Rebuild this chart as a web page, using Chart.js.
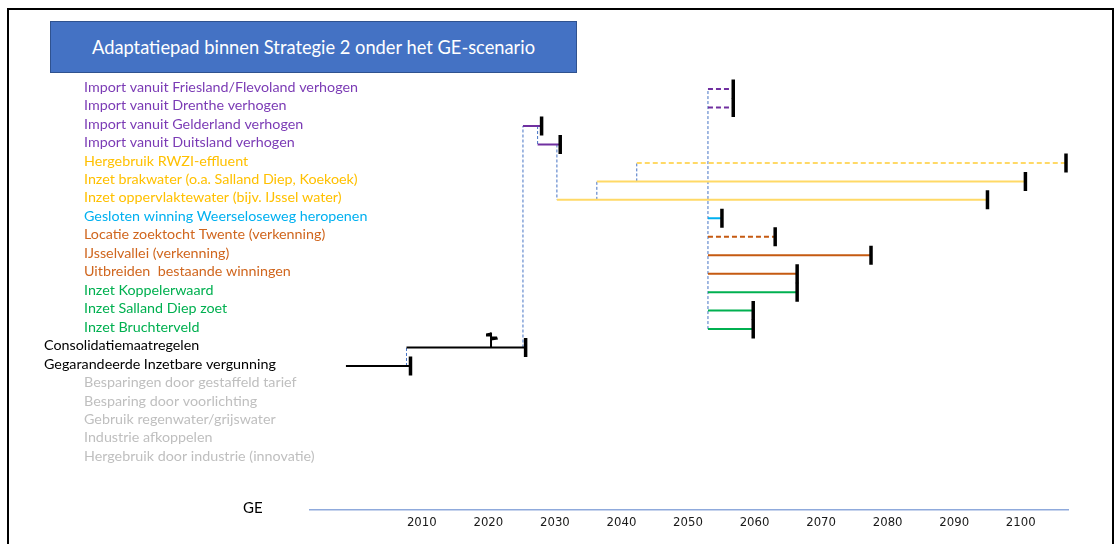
<!DOCTYPE html>
<html>
<head>
<meta charset="utf-8">
<script src="https://cdn.jsdelivr.net/npm/chart.js@4"></script>
<style>
  body { margin: 0; background: #fff; }
  #wrap { position: relative; width: 1117px; height: 544px; overflow: hidden; }
  #frame { position: absolute; left: 7px; top: 8px; width: 1103px; height: 600px; border: 2px solid #000; }
  #title { position: absolute; left: 50px; top: 21px; width: 525px; height: 50px; background: #4472C4; border: 1px solid #2F528F;
           color: #fff; font: 18.3px Lato, sans-serif; display: flex; align-items: center; justify-content: center; }
  #ge { position: absolute; left: 243px; top: 498px; font: 15px Lato, sans-serif; color: #000; }
  canvas { position: absolute; left: 0; top: 0; }
</style>
</head>
<body>
<div id="wrap">
  <div id="frame"></div>
  <canvas id="grafico" width="1117" height="544"></canvas>
  <div id="title">Adaptatiepad binnen Strategie 2 onder het GE-scenario</div>
  <div id="ge">GE</div>
</div>
<script>
// maatregelen (van boven naar beneden)
const maatregelen = [
  "Import vanuit Friesland/Flevoland verhogen",
  "Import vanuit Drenthe verhogen",
  "Import vanuit Gelderland verhogen",
  "Import vanuit Duitsland verhogen",
  "Hergebruik RWZI-effluent",
  "Inzet brakwater (o.a. Salland Diep, Koekoek)",
  "Inzet oppervlaktewater (bijv. IJssel water)",
  "Gesloten winning Weerseloseweg heropenen",
  "Locatie zoektocht Twente (verkenning)",
  "IJsselvallei (verkenning)",
  "Uitbreiden  bestaande winningen",
  "Inzet Koppelerwaard",
  "Inzet Salland Diep zoet",
  "Inzet Bruchterveld",
  "Consolidatiemaatregelen",
  "Gegarandeerde Inzetbare vergunning",
  "Besparingen door gestaffeld tarief",
  "Besparing door voorlichting",
  "Gebruik regenwater/grijswater",
  "Industrie afkoppelen",
  "Hergebruik door industrie (innovatie)"
];
const groep = ["import", "import", "import", "import", "bron", "bron", "bron", "heropenen",
  "winning", "winning", "winning", "inzet", "inzet", "inzet", "basis", "basis",
  "besparing", "besparing", "besparing", "besparing", "besparing"];
const startJaar = [2053, 2053, 2025.2, 2027.4, 2042.3, 2036.3, 2030.3, 2053, 2053, 2053, 2053, 2053, 2053, 2053,
  2007.7, 1998.6, null, null, null, null, null];
const eindJaar = [2056.8, 2056.8, 2028, 2030.8, 2106.8, 2100.7, 2095, 2055.1, 2063.1, 2077.5, 2066.4, 2066.4, 2059.8, 2059.8,
  2025.6, 2008.3, null, null, null, null, null];
const onzeker = [true, true, false, false, true, false, false, false, true, false, false, false, false, false,
  false, false, false, false, false, false, false];

// overstappunten: jaar, van maatregel, naar maatregel
const overstapJaar = [2007.7, 2025.2, 2027.4, 2030.3, 2036.3, 2042.3, 2053];
const overstapVan = [15, 14, 2, 3, 6, 5, 13];
const overstapNaar = [14, 2, 3, 6, 5, 4, 0];

const jaarLabels = [2010, 2020, 2030, 2040, 2050, 2060, 2070, 2080, 2090, 2100];
const vlagJaar = 2020.4;
const vlagRij = 14;

// stijl per groep
const lijnKleur = { import: "#7030A0", bron: "#FFD966", heropenen: "#00B0F0", winning: "#C55A11", inzet: "#00B050", basis: "#000000", besparing: "#BFBFBF" };
const tekstKleur = { import: "#7B3BB5", bron: "#FFC000", heropenen: "#00B0F0", winning: "#D0661E", inzet: "#00B050", basis: "#000000", besparing: "#BFBFBF" };
const inspring = { basis: 44 };

const datasets = [];
maatregelen.forEach((m, i) => {
  if (startJaar[i] === null) return;
  datasets.push({
    label: m,
    data: [{ x: startJaar[i], y: i }, { x: eindJaar[i], y: i }],
    showLine: true,
    borderColor: lijnKleur[groep[i]],
    borderWidth: 2,
    borderDash: onzeker[i] ? [5, 3] : [],
    pointStyle: "line",
    rotation: 90,
    pointRadius: [0, 9.5],
    pointBorderColor: "#000",
    pointBorderWidth: 3.5,
    pointBackgroundColor: "#000"
  });
});
overstapJaar.forEach((j, k) => {
  datasets.push({
    label: "overstap " + j,
    data: [{ x: j, y: overstapVan[k] }, { x: j, y: overstapNaar[k] }],
    showLine: true,
    borderColor: "#4472C4",
    borderWidth: 1,
    borderDash: [3, 2],
    pointRadius: 0
  });
});

const labelsPlugin = {
  id: "labels",
  afterDatasetsDraw(chart) {
    const { ctx, scales: { x, y } } = chart;
    ctx.save();
    ctx.font = "14.3px Lato, sans-serif";
    ctx.textBaseline = "middle";
    maatregelen.forEach((m, i) => {
      ctx.fillStyle = tekstKleur[groep[i]];
      ctx.fillText(m, inspring[groep[i]] || 84, y.getPixelForValue(i) - 2);
    });
    // vlaggetje
    const vx = x.getPixelForValue(vlagJaar), vy = y.getPixelForValue(vlagRij);
    ctx.fillStyle = "#000";
    ctx.fillRect(vx - 1, vy - 15, 2, 15);
    ctx.beginPath();
    ctx.moveTo(vx, vy - 11); ctx.lineTo(vx + 6, vy - 11); ctx.lineTo(vx + 7, vy - 8); ctx.lineTo(vx, vy - 7);
    ctx.closePath(); ctx.fill();
    ctx.beginPath();
    ctx.moveTo(vx, vy - 15); ctx.lineTo(vx - 5, vy - 14); ctx.lineTo(vx - 5, vy - 11); ctx.lineTo(vx, vy - 11);
    ctx.closePath(); ctx.fill();
    ctx.restore();
  }
};

new Chart(document.getElementById("grafico"), {
  type: "scatter",
  data: { datasets },
  options: {
    responsive: false,
    animation: false,
    devicePixelRatio: 1,
    layout: { padding: { left: 310, right: 49, top: 61.4, bottom: 9 } },
    scales: {
      x: {
        type: "linear",
        min: 1993.2,
        max: 2107.1,
        grid: { display: false, drawTicks: false },
        border: { color: "#8FAADC", width: 1.5 },
        ticks: {
          stepSize: 10,
          includeBounds: false,
          padding: 5,
          color: "#1a1a1a",
          font: { family: "'DejaVu Sans Condensed', 'DejaVu Sans'", size: 13 },
          callback: v => jaarLabels.includes(Math.round(v)) && Math.abs(v - Math.round(v)) < 1e-6 ? Math.round(v) : null
        }
      },
      y: {
        type: "linear",
        display: false,
        reverse: true,
        min: -1.5,
        max: 22.77
      }
    },
    plugins: {
      legend: { display: false },
      tooltip: { enabled: false }
    }
  },
  plugins: [labelsPlugin]
});
</script>
</body>
</html>
